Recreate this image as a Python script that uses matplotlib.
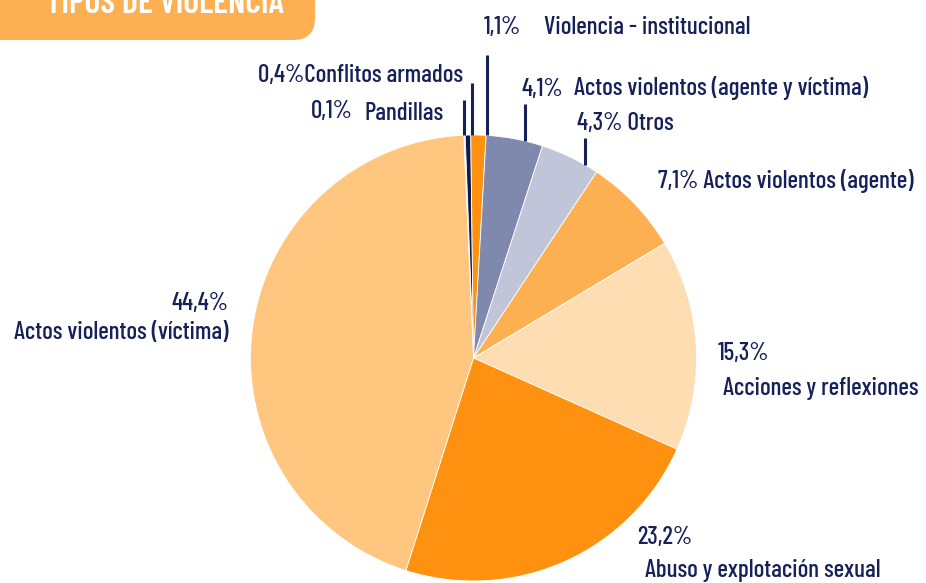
import numpy as np
import matplotlib
matplotlib.use("Agg")
import matplotlib.pyplot as plt
from matplotlib.patches import FancyBboxPatch

plt.rcParams['font.family'] = ['Barlow Condensed', 'DejaVu Sans']

# data (clockwise from the top)
labels = ['Pandillas', 'Conflitos armados', 'Violencia - institucional',
          'Actos violentos (agente y víctima)', 'Otros', 'Actos violentos (agente)',
          'Acciones y reflexiones', 'Abuso y explotación sexual', 'Actos violentos (víctima)']
values = [0.1, 0.4, 1.1, 4.1, 4.3, 7.1, 15.3, 23.2, 44.4]
colors = ['#FFF8EE', '#0E1A4E', '#FF9110', '#7F88AD', '#C1C5D9',
          '#FDB052', '#FEDDB2', '#FF9110', '#FEC67E']

W, H = 926, 583
navy = '#16215A'
fs = 18

fig = plt.figure(figsize=(W / 100, H / 100), dpi=100)
ax = fig.add_axes([0, 0, 1, 1])

cx, cy, r = 473.5, H - 358, 223
ax.pie(values, colors=colors, startangle=92.5, counterclock=False,
       center=(cx, cy), radius=r, frame=True,
       wedgeprops=dict(linewidth=0.6, edgecolor='white'))

ax.set_xlim(0, W)
ax.set_ylim(0, H)
ax.set_aspect('equal')
ax.axis('off')

def pct(v):
    return f'{v:.1f}%'.replace('.', ',')

# leader lines for the small slices: x position and top end (pixels)
leaders = [(464, 100), (472, 83), (487, 55), (525, 104), (585, 138)]
for x, ytop in leaders:
    ybot = cy + np.sqrt(r ** 2 - (x - cx) ** 2)
    ax.plot([x, x], [ybot, H - ytop], color=navy, lw=2.2, solid_capstyle='butt')

def txt(x, y, s, ha='left'):
    ax.text(x, H - y, s, ha=ha, va='center', fontsize=fs, color=navy, fontweight='medium')

# small slices, percentage and name side by side
txt(311, 112, pct(values[0]))
txt(364, 114, labels[0])
txt(258, 76, pct(values[1]) + labels[1])
txt(484, 27, pct(values[2]))
txt(544, 27, labels[2])
txt(522, 89, pct(values[3]))
txt(574, 88, labels[3])
txt(577, 124, pct(values[4]) + ' ' + labels[4])
txt(658, 181, pct(values[5]) + ' ' + labels[5])

# larger slices, two lines
txt(718, 353, pct(values[6]))
txt(723, 388, labels[6])
txt(637, 538, pct(values[7]))
txt(645, 571, labels[7])
txt(228, 303, pct(values[8]), ha='right')
txt(228, 333, labels[8], ha='right')

# title tab cut off at the top
box = FancyBboxPatch((-60, H - 40), 375, 120, boxstyle='round,pad=0,rounding_size=22',
                     facecolor='#FDB052', edgecolor='none', clip_on=False)
ax.add_patch(box)
ax.text(165, H - 13, 'TIPOS DE VIOLENCIA', ha='center', va='baseline',
        fontsize=24.5, color='white', fontweight='semibold')

fig.savefig('out.png', dpi=100)
